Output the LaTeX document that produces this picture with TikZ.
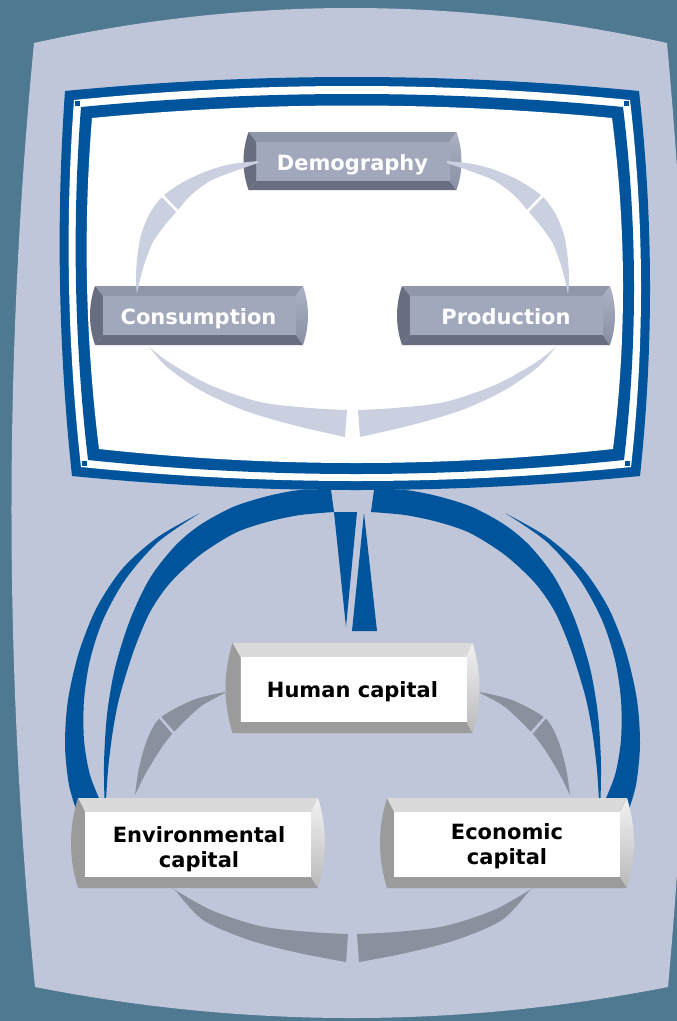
\documentclass[tikz,border=0pt]{standalone}
\usepackage{fontspec}
\setmainfont{DejaVu Sans}
\usetikzlibrary{calc}
\definecolor{bgc}{RGB}{79,120,145}
\definecolor{panelc}{RGB}{191,198,217}
\definecolor{blu}{RGB}{0,84,156}
\definecolor{upconn}{RGB}{203,208,224}
\definecolor{lowconn}{RGB}{138,144,157}
\definecolor{upT}{RGB}{145,151,171}
\definecolor{upL}{RGB}{104,109,128}
\definecolor{upB}{RGB}{104,109,128}
\definecolor{upRa}{RGB}{172,178,195}
\definecolor{upRb}{RGB}{136,143,163}
\definecolor{upF}{RGB}{162,168,188}
\definecolor{loT}{RGB}{218,218,218}
\definecolor{loL}{RGB}{155,155,155}
\definecolor{loB}{RGB}{155,155,155}
\definecolor{loRa}{RGB}{242,242,242}
\definecolor{loRb}{RGB}{185,185,185}
\definecolor{loF}{RGB}{255,255,255}
% quadratic segment P0 -> P3 with control Q
\newcommand\qseg[6]{.. controls ({#1+2/3*(#3-#1)},{#2+2/3*(#4-#2)}) and ({#5+2/3*(#3-#5)},{#6+2/3*(#4-#6)}) .. (#5,#6)}
% bevelled button: x1 y1 x2 y2 bevel-left bevel-top bevel-right bevel-bottom
\newcommand\btn[8]{%
 \fill[bT] (#1+\bc,#2) -- (#3-\bc,#2) -- (#3-#7,#2+#6) -- (#1+#5,#2+#6) -- cycle;
 \fill[bB] (#1+\bc,#4) -- (#3-\bc,#4) -- (#3-#7,#4-#8) -- (#1+#5,#4-#8) -- cycle;
 \fill[bL] (#1+\bc,#2) .. controls ({#1-\bc/3},{#2+(#4-#2)/3}) and ({#1-\bc/3},{#4-(#4-#2)/3}) .. (#1+\bc,#4) -- (#1+#5,#4-#8) -- (#1+#5,#2+#6) -- cycle;
 \shade[bR] (#3-\bc,#2) .. controls ({#3+\bc/3},{#2+(#4-#2)/3}) and ({#3+\bc/3},{#4-(#4-#2)/3}) .. (#3-\bc,#4) -- (#3-#7,#4-#8) -- (#3-#7,#2+#6) -- cycle;
 \fill[bF] (#1+#5,#2+#6) rectangle (#3-#7,#4-#8);
}
\tikzset{
 upset/.style={bT/.style={fill=upT}, bL/.style={fill=upL}, bB/.style={fill=upB},
   bR/.style={top color=upRa, bottom color=upRb}, bF/.style={fill=upF}},
 loset/.style={bT/.style={fill=loT}, bL/.style={fill=loL}, bB/.style={fill=loB},
   bR/.style={top color=loRa, bottom color=loRb}, bF/.style={fill=loF}},
 btxt/.style={font=\fontsize{21}{25}\selectfont\bfseries, inner sep=0pt, align=center},
 gapline/.style={line width=2.6pt},
}
\begin{document}
\begin{tikzpicture}[x=1pt,y=-1pt]
\useasboundingbox (0,0) rectangle (677,1021);
\fill[bgc] (0,0) rectangle (677,1021);
% panel
\fill[panelc] (34,43) \qseg{34}{43}{350.5}{-27}{667}{43} \qseg{667}{43}{710.5}{515}{668}{987}
  \qseg{668}{987}{351.5}{1049}{35}{987} \qseg{35}{987}{-11.5}{515}{34}{43} -- cycle;

% blue arcs (left side and mirrored right side)
\foreach \m in {0,1}{
\begin{scope}[shift={(705*\m,0)}, xscale={1-2*\m}]
 \fill[blu] plot[smooth] coordinates {(331,490) (300,490) (268,496) (233,507) (200,525) (175,546) (150,578) (130,620) (115,668) (107,715) (104,765) (105,818)}
   -- plot[smooth] coordinates {(105,818) (108,770) (113,730) (120,695) (134,650) (150,612) (170,583) (200,555) (235,533) (267,522) (300,515) (334,512)} -- cycle;
 \fill[blu] plot[smooth] coordinates {(200,513) (158,537) (123,568) (97,607) (79,652) (68,700) (65,745) (69,785) (77,812)}
   -- (102,805) -- plot[smooth] coordinates {(102,805) (90,775) (84,740) (84,700) (90,660) (103,620) (125,580) (158,542) (200,513)} -- cycle;
\end{scope}}
% central wedges
\fill[blu] (334,512) -- (357,512) -- (346,627) -- cycle;
\fill[blu] (364,513) -- (377,631) -- (352,631) -- cycle;

% frame
\fill[blu] (65,91) \qseg{65}{91}{352}{63}{639}{91} \qseg{639}{91}{660.5}{283.5}{640}{476}
  \qseg{640}{476}{356}{504}{72}{476} \qseg{72}{476}{51.5}{283.5}{65}{91} -- cycle;
\fill[white] (74,100) \qseg{74}{100}{352}{72}{630}{100} \qseg{630}{100}{651.5}{283.5}{631}{467}
  \qseg{631}{467}{356}{495}{81}{467} \qseg{81}{467}{60.5}{283.5}{74}{100} -- cycle;
\fill[blu] (81,107) \qseg{81}{107}{352}{81}{623}{107} \qseg{623}{107}{644.5}{283.5}{624}{460}
  \qseg{624}{460}{356}{488}{88}{460} \qseg{88}{460}{67.5}{283.5}{81}{107} -- cycle;
\fill[white] (92,118) \qseg{92}{118}{352}{93}{612}{118} \qseg{612}{118}{633.5}{283.5}{613}{449}
  \qseg{613}{449}{356}{477}{99}{449} \qseg{99}{449}{78.5}{283.5}{92}{118} -- cycle;
\foreach \cx/\cy in {77.5/103.5, 626.5/103.5, 627.5/463.5, 84.5/463.5}
  \fill[blu] (\cx-2.5,\cy-2.5) rectangle (\cx+2.5,\cy+2.5);

% upper buttons
\begin{scope}[upset]
 \def\bc{5}
 \btn{243.5}{132}{461.5}{190}{13}{10}{12}{9}
 \btn{90}{286}{308}{345}{13}{10}{12}{10}
 \btn{397}{286}{615}{345}{13}{10}{12}{10}
\end{scope}

% upper connectors
\foreach \m in {0,1}{
\begin{scope}[shift={(705*\m,0)}, xscale={1-2*\m}]
 \fill[upconn] plot[smooth] coordinates {(258,161) (232,164) (210,170) (185,181) (163,196) (150,213) (141,235) (137,260) (136,280) (137,294)}
   -- plot[smooth] coordinates {(137,294) (140,280) (145,262) (153,242) (165,225) (177,211) (190,196) (210,181) (235,171) (258,163)} -- cycle;
 \draw[white, gapline] (159,192) -- (181,215);
 \fill[upconn] plot[smooth] coordinates {(148,346) (170,363) (210,385) (260,402) (310,408) (347,410)}
   -- (345,437) -- plot[smooth] coordinates {(345,437) (293,425) (243,410) (200,390) (167,367) (150,348)} -- cycle;
\end{scope}}

% lower connectors
\foreach \m in {0,1}{
\begin{scope}[shift={(705*\m,0)}, xscale={1-2*\m}]
 \fill[lowconn] plot[smooth] coordinates {(225,692) (193,700) (160,718) (147,740) (139,768) (135,795)}
   -- plot[smooth] coordinates {(135,795) (146,773) (160,750) (173,733) (200,707) (225,693)} -- cycle;
 \draw[panelc, gapline] (157,714) -- (177,737);
 \fill[lowconn] plot[smooth] coordinates {(172,888) (211,910) (260,926) (310,932) (348,934)}
   -- (346,962) -- plot[smooth] coordinates {(346,962) (299,953) (249,940) (203,920) (176,891)} -- cycle;
\end{scope}}

% lower buttons
\begin{scope}[loset]
 \def\bc{7}
 \btn{225.5}{643}{479.5}{733}{15}{14}{13}{11}
 \btn{71}{798}{325}{888}{14}{14}{14}{11}
 \btn{380}{798}{634}{888}{14}{14}{14}{11}
\end{scope}

% texts
\node[btxt, text=white, anchor=base] (dem) at (352.5,170) {Demography};
\node[btxt, text=white, anchor=base] (con) at (198.5,324) {Consumption};
\node[btxt, text=white, anchor=base] (pro) at (506,324) {Production};
\node[btxt, text=black, anchor=base] (hum) at (352.5,697) {Human capital};
\node[btxt, text=black] (env) at (199,849) {Environmental\\capital};
\node[btxt, text=black] (eco) at (507,846) {Economic\\capital};
\end{tikzpicture}
\end{document}
